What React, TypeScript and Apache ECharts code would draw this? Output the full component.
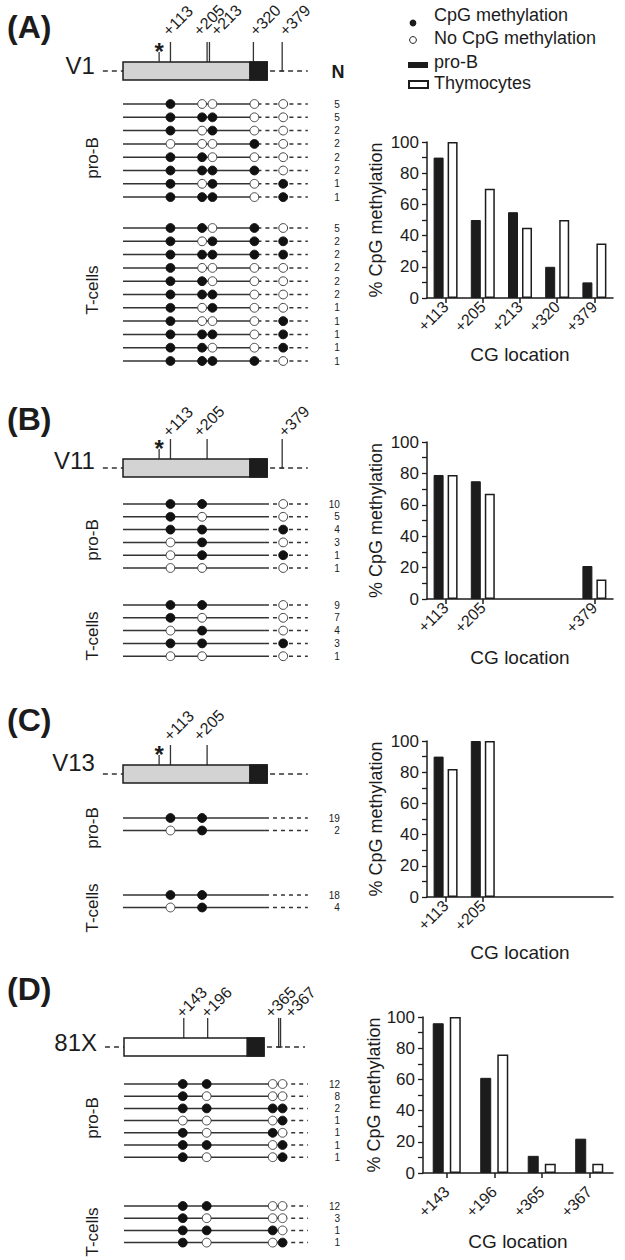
import React, { useEffect, useRef } from 'react';
import * as echarts from 'echarts';

// ================= DATA =================
// Panel A (V1)
const sitesA = ['+113', '+205', '+213', '+320', '+379'];
const siteBpA = [113, 205, 213, 320, 379];
const proBPatternsA = ['10000', '11100', '10100', '00010', '11000', '11110', '10101', '11101'];
const proBCountsA = [5, 5, 2, 2, 2, 2, 1, 1];
const tCellPatternsA = ['11010', '10111', '11111', '10000', '11000', '11100', '10100', '10001', '11101', '11001', '11110'];
const tCellCountsA = [5, 2, 2, 2, 2, 2, 1, 1, 1, 1, 1];
const barProBA = [90, 50, 55, 20, 10];
const barThyA = [100, 70, 45, 50, 35];

// Panel B (V11)
const sitesB = ['+113', '+205', '+379'];
const siteBpB = [113, 205, 379];
const proBPatternsB = ['110', '100', '111', '010', '011', '000'];
const proBCountsB = [10, 5, 4, 3, 1, 1];
const tCellPatternsB = ['110', '100', '010', '111', '000'];
const tCellCountsB = [9, 7, 4, 3, 1];
const barProBB = [79, 75, 21];
const barThyB = [79, 67, 12.5];

// Panel C (V13)
const sitesC = ['+113', '+205'];
const siteBpC = [113, 205];
const proBPatternsC = ['11', '01'];
const proBCountsC = [19, 2];
const tCellPatternsC = ['11', '01'];
const tCellCountsC = [18, 4];
const barProBC = [90, 100];
const barThyC = [82, 100];

// Panel D (81X)
const sitesD = ['+143', '+196', '+365', '+367'];
const siteBpD = [143, 196, 365, 367];
const proBPatternsD = ['1100', '1000', '1111', '0001', '1010', '1101', '1001'];
const proBCountsD = [12, 8, 2, 1, 1, 1, 1];
const tCellPatternsD = ['1100', '1000', '1110', '1001'];
const tCellCountsD = [12, 3, 1, 1];
const barProBD = [96, 61, 11, 22];
const barThyD = [100, 76, 6, 6];

const geneNames = ['V1', 'V11', 'V13', '81X'];
const panelLetters = ['(A)', '(B)', '(C)', '(D)'];
const legendLabels = ['CpG methylation', 'No CpG methylation', 'pro-B', 'Thymocytes'];
const groupLabels = ['pro-B', 'T-cells'];

// ================= STYLE / LAYOUT =================
const FONT = '"Liberation Sans", Arial, Helvetica, sans-serif';
const INK = '#1c1c1c';
const LINE = '#333333';
const X_MIN = -60;
const X_MAX = 460;

type Panel = any;

const PANELS: Panel[] = [
  {
    letterY: 27, gene: geneNames[0], nameDy: -6,
    sites: sitesA, siteBp: siteBpA, proPat: proBPatternsA, proN: proBCountsA, tPat: tCellPatternsA, tN: tCellCountsA,
    barSlots: [0, 1, 2, 3, 4], slotCount: 5, barPro: barProBA, barThy: barThyA,
    star: 86, boxFill: '#d3d3d3', origin: 123, scale: 0.42, boxEnd: 343, exonStart: 302,
    flankL: -48, flankR: 440, solidEnd: 320, dashEnd: 440,
    geneY: 71, proTop: 104, tTop: 228, rowH: 13.3, labelDy: -9,
    dotNudge: [0, -7, 0, -3, 1], tickNudge: [0, -2, -3, -4, 0], labelNudge: [-5, -11, 4, -1, 0],
    proLabelY: 158, tLabelY: 290,
    bar: { left: 427, width: 186, top: 142, height: 156, barWidth: 10, barGap: '40%', nameGapX: 47, nameGapY: 42, labelMargin: 6 },
  },
  {
    letterY: 419, gene: geneNames[1], nameDy: -8,
    sites: sitesB, siteBp: siteBpB, proPat: proBPatternsB, proN: proBCountsB, tPat: tCellPatternsB, tN: tCellCountsB,
    barSlots: [0, 1, 4], slotCount: 5, barPro: barProBB, barThy: barThyB,
    star: 86, boxFill: '#d3d3d3', origin: 123, scale: 0.42, boxEnd: 343, exonStart: 302,
    flankL: -48, flankR: 440, solidEnd: 338, dashEnd: 440,
    geneY: 468, proTop: 504, tTop: 605, rowH: 12.8, labelDy: -5,
    dotNudge: [0, -7, 1], tickNudge: [0, -2, 0], labelNudge: [-5, -11, -1],
    proLabelY: 540, tLabelY: 636,
    bar: { left: 427, width: 186, top: 442, height: 157, barWidth: 10, barGap: '40%', nameGapX: 49, nameGapY: 42, labelMargin: 6 },
  },
  {
    letterY: 720, gene: geneNames[2], nameDy: -12,
    sites: sitesC, siteBp: siteBpC, proPat: proBPatternsC, proN: proBCountsC, tPat: tCellPatternsC, tN: tCellCountsC,
    barSlots: [0, 1], slotCount: 5, barPro: barProBC, barThy: barThyC,
    star: 86, boxFill: '#d3d3d3', origin: 123, scale: 0.42, boxEnd: 343, exonStart: 302,
    flankL: -48, flankR: 440, solidEnd: 338, dashEnd: 440,
    geneY: 774, proTop: 818, tTop: 895, rowH: 12.5, labelDy: -7,
    dotNudge: [0, -7], tickNudge: [0, -2], labelNudge: [-4, -11],
    proLabelY: 828, tLabelY: 908,
    bar: { left: 427, width: 186, top: 741, height: 156, barWidth: 10, barGap: '40%', nameGapX: 46, nameGapY: 42, labelMargin: 6 },
  },
  {
    letterY: 989, gene: geneNames[3], nameDy: -5,
    sites: sitesD, siteBp: siteBpD, proPat: proBPatternsD, proN: proBCountsD, tPat: tCellPatternsD, tN: tCellCountsD,
    barSlots: [0, 1, 2, 3], slotCount: 4, barPro: barProBD, barThy: barThyD,
    star: null, boxFill: '#ffffff', origin: 124, scale: 0.432, boxEnd: 324, exonStart: 285,
    flankL: -44, flankR: 419, solidEnd: 350, dashEnd: 426,
    geneY: 1047, proTop: 1084, tTop: 1206, rowH: 12.2, labelDy: -3,
    dotNudge: [-3, -2, -9, 0], tickNudge: [-2, -1, -3, -2], labelNudge: [-5, -4, -11, 7],
    proLabelY: 1118, tLabelY: 1232,
    bar: { left: 423, width: 190, top: 1017, height: 156, barWidth: 11, barGap: '55%', nameGapX: 59, nameGapY: 38, labelMargin: 16 },
  },
];

function txt(text: string, x: number, y: number, size: number, extra: any = {}) {
  return {
    type: 'text', x, y, rotation: extra.rotation || 0, silent: true,
    style: {
      text, fontSize: size, fontFamily: FONT, fontWeight: extra.weight || 'normal', fill: INK,
      align: extra.align || 'left', verticalAlign: extra.valign || 'middle',
    },
  };
}

function geneRenderer(p: Panel) {
  const geneSlot = (p.geneY - p.proTop) / p.rowH;
  return (params: any, api: any) => {
    const y = api.coord([0, geneSlot])[1];
    const X = (bp: number) => api.coord([bp, geneSlot])[0];
    const children: any[] = [];
    const dash = { stroke: LINE, lineWidth: 1.5, lineDash: [5, 4] };
    const x0 = X(0), x1 = X(p.boxEnd), xe = X(p.exonStart);
    children.push({ type: 'line', shape: { x1: X(p.flankL), y1: y, x2: x0, y2: y }, style: dash });
    children.push({ type: 'line', shape: { x1: x1 + 3, y1: y, x2: X(p.flankR), y2: y }, style: dash });
    const tickTop = y - 29;
    p.siteBp.forEach((bp: number, k: number) => {
      const sx = X(bp) + p.tickNudge[k];
      const yb = bp < p.boxEnd ? y - 9 : y;
      children.push({ type: 'line', shape: { x1: sx, y1: yb, x2: sx, y2: tickTop }, style: { stroke: LINE, lineWidth: 1.3 } });
      if (bp >= p.boxEnd) {
        children.push({ type: 'line', shape: { x1: sx - 2, y1: y, x2: sx + 2, y2: y }, style: { stroke: LINE, lineWidth: 1.3 } });
      }
      children.push(txt(p.sites[k], sx + p.labelNudge[k], tickTop + p.labelDy, 16, { rotation: Math.PI / 4 }));
    });
    children.push({ type: 'rect', shape: { x: x0, y: y - 9, width: x1 - x0, height: 18 }, style: { fill: p.boxFill, stroke: INK, lineWidth: 1.5 } });
    children.push({ type: 'rect', shape: { x: xe, y: y - 9, width: x1 - xe, height: 18 }, style: { fill: INK, stroke: INK, lineWidth: 1.5 } });
    if (p.star != null) {
      const sx = X(p.star);
      children.push({ type: 'line', shape: { x1: sx, y1: y - 9, x2: sx, y2: y - 19 }, style: { stroke: LINE, lineWidth: 1.3 } });
      children.push(txt('*', sx, y - 20, 24, { align: 'center', weight: 'bold' }));
    }
    children.push(txt(p.gene, X(p.flankL) - 8, y + p.nameDy, 24, { align: 'right' }));
    children.push(txt(groupLabels[0], 92, p.proLabelY, 17, { align: 'center', rotation: Math.PI / 2 }));
    children.push(txt(groupLabels[1], 92, p.tLabelY, 17, { align: 'center', rotation: Math.PI / 2 }));
    return { type: 'group', children };
  };
}

function rowsOf(p: Panel) {
  const rows: any[] = [];
  const tOff = (p.tTop - p.proTop) / p.rowH;
  p.proPat.forEach((pat: string, k: number) => rows.push({ slot: k, pat, n: p.proN[k] }));
  p.tPat.forEach((pat: string, k: number) => rows.push({ slot: tOff + k, pat, n: p.tN[k] }));
  return rows;
}

function rowRenderer(p: Panel, rows: any[]) {
  return (params: any, api: any) => {
    const r = rows[params.dataIndex];
    const y = api.coord([0, r.slot])[1];
    const X = (bp: number) => api.coord([bp, r.slot])[0];
    const children: any[] = [
      { type: 'line', shape: { x1: X(0), y1: y, x2: X(p.solidEnd), y2: y }, style: { stroke: LINE, lineWidth: 1.5 } },
      { type: 'line', shape: { x1: X(p.solidEnd), y1: y, x2: X(p.dashEnd), y2: y }, style: { stroke: LINE, lineWidth: 1.5, lineDash: [4, 4] } },
    ];
    p.siteBp.forEach((bp: number, k: number) => {
      const on = r.pat[k] === '1';
      children.push({
        type: 'circle', shape: { cx: X(bp) + p.dotNudge[k], cy: y, r: 4.4 },
        style: { fill: on ? '#111' : '#fff', stroke: on ? '#111' : '#444', lineWidth: 1 },
      });
    });
    children.push(txt(String(r.n), X(p.dashEnd) + 32, y, 10, { align: 'right' }));
    return { type: 'group', children };
  };
}

function buildOption() {
  const grid: any[] = [];
  const xAxis: any[] = [];
  const yAxis: any[] = [];
  const series: any[] = [];
  const axisText = { color: INK, fontFamily: FONT };

  PANELS.forEach((p, i) => {
    const b = p.bar;
    grid.push({ left: b.left, top: b.top, width: b.width, height: b.height });
    const cats = Array.from({ length: p.slotCount }, (_, k) => {
      const j = p.barSlots.indexOf(k);
      return j >= 0 ? p.sites[j] : '_' + k;
    });
    const fill = (vals: number[]) => {
      const arr: any[] = Array(p.slotCount).fill(null);
      p.barSlots.forEach((s: number, j: number) => { arr[s] = vals[j]; });
      return arr;
    };
    xAxis.push({
      type: 'category', gridIndex: i, data: cats, boundaryGap: true,
      name: 'CG location', nameLocation: 'middle', nameGap: b.nameGapX,
      nameTextStyle: { ...axisText, fontSize: 19 },
      axisLine: { show: true, lineStyle: { color: INK, width: 1.5 } },
      axisTick: {
        show: true, alignWithLabel: true, length: 5, inside: false,
        interval: (idx: number, v: string) => !String(v).startsWith('_'),
        lineStyle: { color: INK, width: 1.5 },
      },
      axisLabel: {
        interval: 0, rotate: 45, margin: b.labelMargin, fontSize: 16, ...axisText,
        formatter: (v: string) => (String(v).startsWith('_') ? '' : v),
      },
      splitLine: { show: false },
    });
    yAxis.push({
      type: 'value', gridIndex: i, min: 0, max: 100, interval: 20,
      name: '% CpG methylation', nameLocation: 'middle', nameGap: b.nameGapY, nameRotate: 90,
      nameTextStyle: { ...axisText, fontSize: 18 },
      axisLine: { show: true, lineStyle: { color: INK, width: 1.5 } },
      axisTick: { show: true, length: 5, inside: false, lineStyle: { color: INK, width: 1.3 } },
      minorTick: { show: true, splitNumber: 2, length: 5, lineStyle: { color: INK, width: 1.3 } },
      axisLabel: { fontSize: 17, margin: 8, ...axisText },
      splitLine: { show: false },
      minorSplitLine: { show: false },
    });
    series.push({
      type: 'bar', name: legendLabels[2], xAxisIndex: i, yAxisIndex: i, data: fill(p.barPro),
      barWidth: b.barWidth, barGap: b.barGap, itemStyle: { color: INK, borderColor: INK, borderWidth: 1 },
    });
    series.push({
      type: 'bar', name: legendLabels[3], xAxisIndex: i, yAxisIndex: i, data: fill(p.barThy),
      barWidth: b.barWidth, barGap: b.barGap, itemStyle: { color: '#ffffff', borderColor: INK, borderWidth: 1.5 },
    });
  });

  PANELS.forEach((p, i) => {
    const gi = 4 + i;
    const rows = rowsOf(p);
    const yMax = Math.ceil(rows[rows.length - 1].slot + 1);
    grid.push({
      left: p.origin + X_MIN * p.scale, width: (X_MAX - X_MIN) * p.scale,
      top: p.proTop, height: p.rowH * yMax,
    });
    xAxis.push({ type: 'value', gridIndex: gi, min: X_MIN, max: X_MAX, show: false, splitLine: { show: false } });
    yAxis.push({ type: 'value', gridIndex: gi, min: 0, max: yMax, inverse: true, show: false, splitLine: { show: false } });
    const geneSlot = (p.geneY - p.proTop) / p.rowH;
    series.push({
      type: 'custom', coordinateSystem: 'cartesian2d', xAxisIndex: gi, yAxisIndex: gi,
      data: [[0, geneSlot]], renderItem: geneRenderer(p), silent: true, clip: false,
    });
    series.push({
      type: 'custom', coordinateSystem: 'cartesian2d', xAxisIndex: gi, yAxisIndex: gi,
      data: rows.map((r) => [0, r.slot]), renderItem: rowRenderer(p, rows), silent: true, clip: false,
    });
  });

  const graphic: any[] = [];
  PANELS.forEach((p, i) => graphic.push(txt(panelLetters[i], 7, p.letterY, 32, { weight: 'bold' })));
  // legend
  graphic.push({ type: 'circle', shape: { cx: 413, cy: 23, r: 3.4 }, style: { fill: INK } });
  graphic.push(txt(legendLabels[0], 434, 15, 18));
  graphic.push({ type: 'circle', shape: { cx: 413, cy: 40, r: 3.4 }, style: { fill: '#fff', stroke: INK, lineWidth: 1 } });
  graphic.push(txt(legendLabels[1], 434, 38, 18));
  graphic.push({ type: 'rect', shape: { x: 408, y: 62, width: 20, height: 6 }, style: { fill: INK } });
  graphic.push(txt(legendLabels[2], 434, 62, 18));
  graphic.push({ type: 'rect', shape: { x: 409, y: 81, width: 19, height: 7 }, style: { fill: '#fff', stroke: INK, lineWidth: 2 } });
  graphic.push(txt(legendLabels[3], 434, 83, 18));
  graphic.push(txt('N', 338, 72, 18, { align: 'center', weight: 'bold' }));

  return {
    animation: false,
    backgroundColor: '#ffffff',
    textStyle: { fontFamily: FONT },
    grid, xAxis, yAxis, series, graphic,
  };
}

export default function App() {
  const ref = useRef<HTMLDivElement>(null);
  useEffect(() => {
    const chart = echarts.init(ref.current as HTMLDivElement, null, { renderer: 'svg' });
    chart.setOption(buildOption() as any);
    return () => chart.dispose();
  }, []);
  return (
    <div
      ref={ref}
      style={{ position: 'absolute', left: 0, top: 0, width: 625, height: 1260, background: '#fff' }}
    />
  );
}
